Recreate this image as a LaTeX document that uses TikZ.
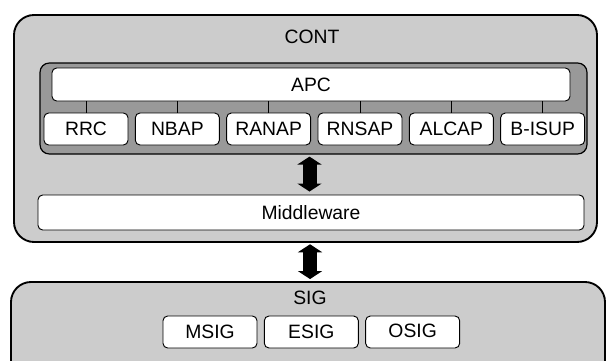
\documentclass[tikz,border=0pt]{standalone}
\usepackage{fontspec}
\setmainfont{Liberation Sans}
\usetikzlibrary{positioning,arrows.meta}

\begin{document}
\begin{tikzpicture}[x=0.75pt,y=-0.75pt,
		% Style definitions
		layer/.style={
			rectangle,
			draw=black,
			fill=black!20,
			line width=1.4pt,
			rounded corners=15pt
		},
		group/.style={
			rectangle,
			draw=black,
			fill=black!40,
			line width=0.9pt,
			rounded corners=7pt
		},
		block/.style={
			rectangle,
			draw=black,
			fill=white,
			line width=0.7pt,
			rounded corners=3.5pt,
			minimum height=24pt,
			font=\fontsize{14.5}{17}\selectfont
		},
		proto/.style={block, minimum width=63pt},
		sigbox/.style={block, minimum width=70.5pt},
		title/.style={font=\fontsize{14.5}{17}\selectfont},
		tick/.style={line width=0.6pt},
		bigarrow/.style={
			{Triangle[width=18pt,length=6pt]}-{Triangle[width=18pt,length=6pt]},
			line width=10.5pt,
			black
		},
		node distance=4.8pt
		]
		\path[use as bounding box, clip] (0,0) rectangle (608,361);

		% Layers
		\node[layer, minimum width=437.25pt, minimum height=170.25pt] (cont) at (305.5,128.5) {};
		\node[title] (contlbl) at (312,37) {CONT};
		\node[layer, minimum width=445.5pt, minimum height=84.75pt] (sig) at (308,338.5) {};
		\node[title] (siglbl) at (310,298) {SIG};

		% APC and its protocols
		\node[group, minimum width=410.25pt, minimum height=68.25pt] (grp) at (313.5,108.5) {};
		\node[block, minimum width=388.5pt, minimum height=24.75pt] (apc) at (311,84.5) {APC};
		\node[proto] (rrc) at (86,129) {RRC};
		\node[proto, right=of rrc] (nbap) {NBAP};
		\node[proto, right=of nbap] (ranap) {RANAP};
		\node[proto, right=of ranap] (rnsap) {RNSAP};
		\node[proto, right=of rnsap] (alcap) {ALCAP};
		\node[proto, right=of alcap] (bisup) {B-ISUP};
		\foreach \p in {rrc,nbap,ranap,rnsap,alcap,bisup}
			\draw[tick] (\p.north) -- (\p.north |- apc.south);

		% Middleware
		\node[block, minimum width=409.5pt, minimum height=26.25pt] (mw) at (311,212.5) {Middleware};

		% Signalling blocks
		\node[sigbox] (msig) at (210,332) {MSIG};
		\node[sigbox, right=of msig, text depth=-2pt] (esig) {ESIG};
		\node[sigbox, right=of esig, text depth=1.5pt] (osig) {OSIG};

		% Connection arrows
		\draw[bigarrow] ([xshift=-3pt,yshift=-1.5pt]grp.south) -- ([xshift=-3pt,yshift=2.25pt]grp.south |- mw.north);
		\draw[bigarrow] ([xshift=3.4pt,yshift=-1pt]cont.south) -- ([xshift=3.4pt,yshift=1.5pt]cont.south |- sig.north);
	\end{tikzpicture}
\end{document}
